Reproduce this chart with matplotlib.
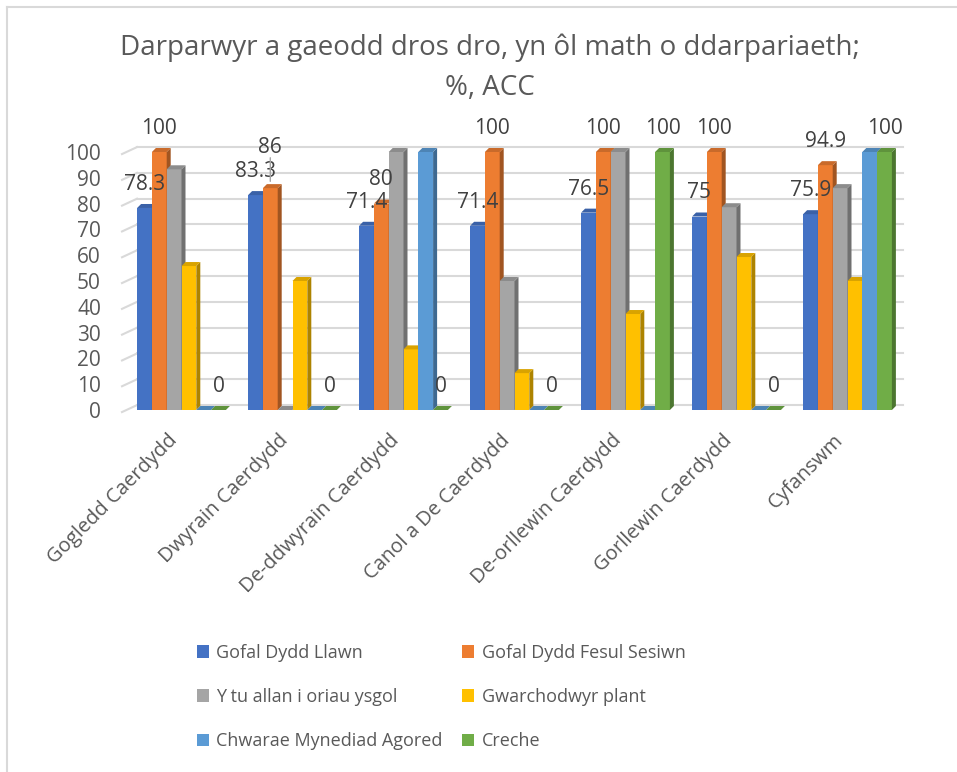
import matplotlib.pyplot as plt
import matplotlib.patches as patches
import matplotlib.colors as mcolors
import matplotlib.transforms as mtransforms
from matplotlib.lines import Line2D
import numpy as np

plt.rcParams['font.family'] = ['Open Sans', 'DejaVu Sans']

# Data
categories = ["Gogledd Caerdydd", "Dwyrain Caerdydd", "De-ddwyrain Caerdydd",
              "Canol a De Caerdydd", "De-orllewin Caerdydd", "Gorllewin Caerdydd",
              "Cyfanswm"]
series_names = ["Gofal Dydd Llawn", "Gofal Dydd Fesul Sesiwn",
                "Y tu allan i oriau ysgol", "Gwarchodwyr plant",
                "Chwarae Mynediad Agored", "Creche"]
gofal_llawn = [78.3, 83.3, 71.4, 71.4, 76.5, 75, 75.9]
gofal_sesiwn = [100, 86, 80, 100, 100, 100, 94.9]
tu_allan = [93.3, 0, 100, 50, 100, 78.6, 86]
gwarchodwyr = [55.8, 50, 23.5, 14.3, 37.2, 59.3, 50]
chwarae = [0, 0, 100, 0, 0, 0, 100]
creche = [0, 0, 0, 0, 100, 0, 100]
series = [gofal_llawn, gofal_sesiwn, tu_allan, gwarchodwyr, chwarae, creche]
labelled = [0, 1, 5]
colors = ["#4472C4", "#ED7D31", "#A5A5A5", "#FFC000", "#5B9BD5", "#70AD47"]
text_col = "#595959"

fig = plt.figure(figsize=(9.57, 7.72), dpi=100)
W, H = 957, 772
ax = fig.add_axes([126 / W, (H - 410) / H, 777 / W, 103 * 2.58 / H])

# chart border (left and top visible)
fig.add_artist(Line2D([7 / W, 7 / W], [0, 1 - 7 / H], color="#d9d9d9", lw=1.5))
fig.add_artist(Line2D([7 / W, 1], [1 - 7 / H, 1 - 7 / H], color="#d9d9d9", lw=1.5))

x = np.arange(len(categories))
bw = 0.8 / len(series)
dx, dy = 0.036, 1.55   # fake depth of the 3D bars

# back wall gridlines with a slanted floor edge
for v in range(0, 101, 10):
    ax.plot([-0.536, -0.401], [v - 0.8, v + 1.9], color="#d9d9d9", lw=1.5,
            clip_on=False, zorder=0)
    ax.plot([-0.401, 6.5], [v + 1.9, v + 1.9], color="#d9d9d9", lw=1.5,
            clip_on=False, zorder=0)

for k, (vals, c) in enumerate(zip(series, colors)):
    rgb = np.array(mcolors.to_rgb(c))
    side = rgb * 0.68
    top = rgb * 0.85
    pos = x - 0.4 + bw * k
    z = 2 + k
    for xi, h in zip(pos, vals):
        ax.add_patch(patches.Rectangle((xi, 0), bw, h, facecolor=c,
                                       edgecolor="none", zorder=z))
        ax.add_patch(patches.Polygon([(xi + bw, 0), (xi + bw, h),
                                      (xi + bw + dx, h + dy), (xi + bw + dx, dy)],
                                     facecolor=side, edgecolor="none", zorder=z))
        ax.add_patch(patches.Polygon([(xi, h), (xi + bw, h),
                                      (xi + bw + dx, h + dy), (xi + dx, h + dy)],
                                     facecolor=top, edgecolor="none", zorder=z))
    if k in labelled:
        for i, (xi, h) in enumerate(zip(pos, vals)):
            off = 17
            if k == 1 and i == 1:
                off = 29   # label moved up, with a leader line
                ax.annotate("", xy=(xi + bw / 2, h + dy), xytext=(0, off - 8),
                            textcoords="offset points",
                            arrowprops=dict(arrowstyle="-", color="#a6a6a6", lw=1),
                            zorder=20)
            ax.annotate(f"{h:g}", xy=(xi + bw / 2, h), xytext=(0, off),
                        textcoords="offset points", ha="center", va="center",
                        fontsize=15, color="#404040", zorder=20)
ax.set_xlim(-0.5, 6.5)
ax.set_ylim(0, 103)
ax.set_yticks(range(0, 101, 10))
ax.set_xticks(x)
ax.set_xticklabels(categories, rotation=45, ha="right", va="center",
                   rotation_mode="anchor")
ax.tick_params(axis="y", length=0, pad=18, labelsize=15, labelcolor=text_col)
ax.tick_params(axis="x", length=0, pad=20, labelsize=14.5, labelcolor=text_col)
shift = mtransforms.ScaledTranslation(-7 / 100, 0, fig.dpi_scale_trans)
for lbl in ax.get_xticklabels():
    lbl.set_transform(lbl.get_transform() + shift)
for s in ax.spines.values():
    s.set_visible(False)

fig.text(490 / W, 1 - 48 / H, "Darparwyr a gaeodd dros dro, yn ôl math o ddarpariaeth;",
         ha="center", va="center", fontsize=20, color=text_col)
fig.text(490 / W, 1 - 88 / H, "%, ACC", ha="center", va="center",
         fontsize=20, color=text_col)

# legend fills by row in the original, so reorder for column-first filling
order = [0, 2, 4, 1, 3, 5]
handles = [patches.Patch(facecolor=colors[i], edgecolor="none") for i in order]
fig.legend(handles, [series_names[i] for i in order], ncol=2, loc="center",
           bbox_to_anchor=(441 / W, 1 - 697 / H), frameon=False, fontsize=13,
           labelcolor=text_col, handlelength=0.7, handleheight=0.7,
           handletextpad=0.4, columnspacing=1.05, labelspacing=1.45)

fig.savefig("out.png", dpi=100)
